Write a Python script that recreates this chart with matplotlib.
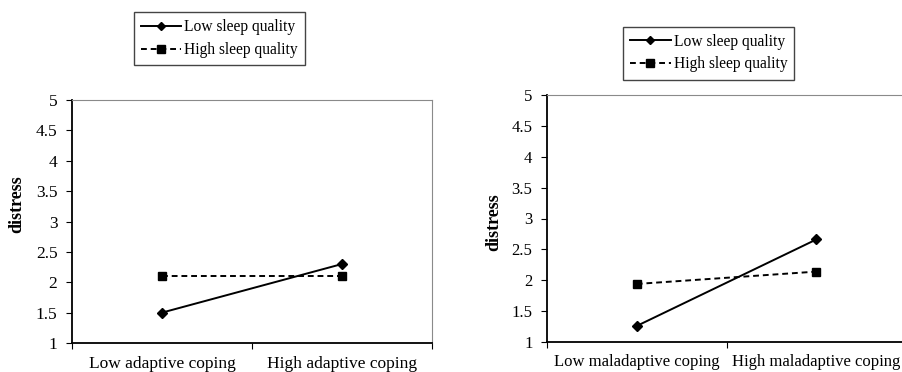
import matplotlib.pyplot as plt

# two-level moderation plots: distress by coping level x sleep quality
series_labels = ["Low sleep quality", "High sleep quality"]

adaptive_levels = ["Low adaptive coping", "High adaptive coping"]
adaptive_low_sleep = [1.5, 2.3]
adaptive_high_sleep = [2.1, 2.1]

maladaptive_levels = ["Low maladaptive coping", "High maladaptive coping"]
maladaptive_low_sleep = [1.26, 2.66]
maladaptive_high_sleep = [1.94, 2.14]

y_ticks = [1, 1.5, 2, 2.5, 3, 3.5, 4, 4.5, 5]
y_tick_labels = ["1", "1.5", "2", "2.5", "3", "3.5", "4", "4.5", "5"]

plt.rcParams["font.family"] = ["Liberation Serif", "DejaVu Serif"]

W, H = 903, 372
fig = plt.figure(figsize=(W / 100, H / 100), dpi=100)


def px_axes(left, top, right, bottom):
    return fig.add_axes([left / W, 1 - bottom / H, (right - left) / W, (bottom - top) / H])


def draw_panel(ax, levels, low_vals, high_vals, legend_center, ylabel_xy, fs):
    xs = [0.5, 1.5]
    ax.plot(xs, low_vals, color="black", lw=1.4, marker="D", ms=5,
            label=series_labels[0])
    ax.plot(xs, high_vals, color="black", lw=1.4, ls=(0, (3, 2)), marker="s",
            ms=6, label=series_labels[1])
    ax.set_xlim(0, 2)
    ax.set_ylim(1, 5)
    ax.set_xticks([0, 1, 2])
    ax.set_xticklabels([])
    ax.set_xticks(xs, minor=True)
    ax.set_xticklabels(levels, minor=True, fontsize=fs)
    ax.tick_params(axis="x", which="minor", length=0, pad=9)
    ax.tick_params(axis="x", which="major", length=4.5, direction="out")
    ax.set_yticks(y_ticks)
    ax.set_yticklabels(y_tick_labels, fontsize=fs)
    ax.tick_params(axis="y", length=4.5, direction="out", pad=6)
    for side in ("top", "right"):
        ax.spines[side].set_color("#8a8a8a")
    for side in ("left", "bottom"):
        ax.spines[side].set_color("black")
        ax.spines[side].set_linewidth(1.3)
    ax.set_ylabel("distress", fontsize=13, fontweight="bold")
    ax.yaxis.set_label_coords(ylabel_xy[0], ylabel_xy[1], transform=fig.transFigure)
    leg = ax.legend(loc="center", bbox_to_anchor=legend_center,
                    bbox_transform=fig.transFigure, fontsize=11.2,
                    handlelength=2.6, handletextpad=0.2, borderpad=0.45,
                    labelspacing=0.45, fancybox=False, framealpha=1,
                    markerscale=0.85)
    leg.get_frame().set_edgecolor("#444444")
    leg.get_frame().set_linewidth(1.0)


ax1 = px_axes(72, 100, 432, 343)
draw_panel(ax1, adaptive_levels, adaptive_low_sleep, adaptive_high_sleep,
           (219.5 / W, 1 - 38.5 / H), (25 / W, 1 - 204 / H), 12.5)

ax2 = px_axes(547, 95, 906, 342)
draw_panel(ax2, maladaptive_levels, maladaptive_low_sleep, maladaptive_high_sleep,
           (708.7 / W, 1 - 53 / H), (502 / W, 1 - 222 / H), 12)

fig.savefig("out.png", dpi=100)
